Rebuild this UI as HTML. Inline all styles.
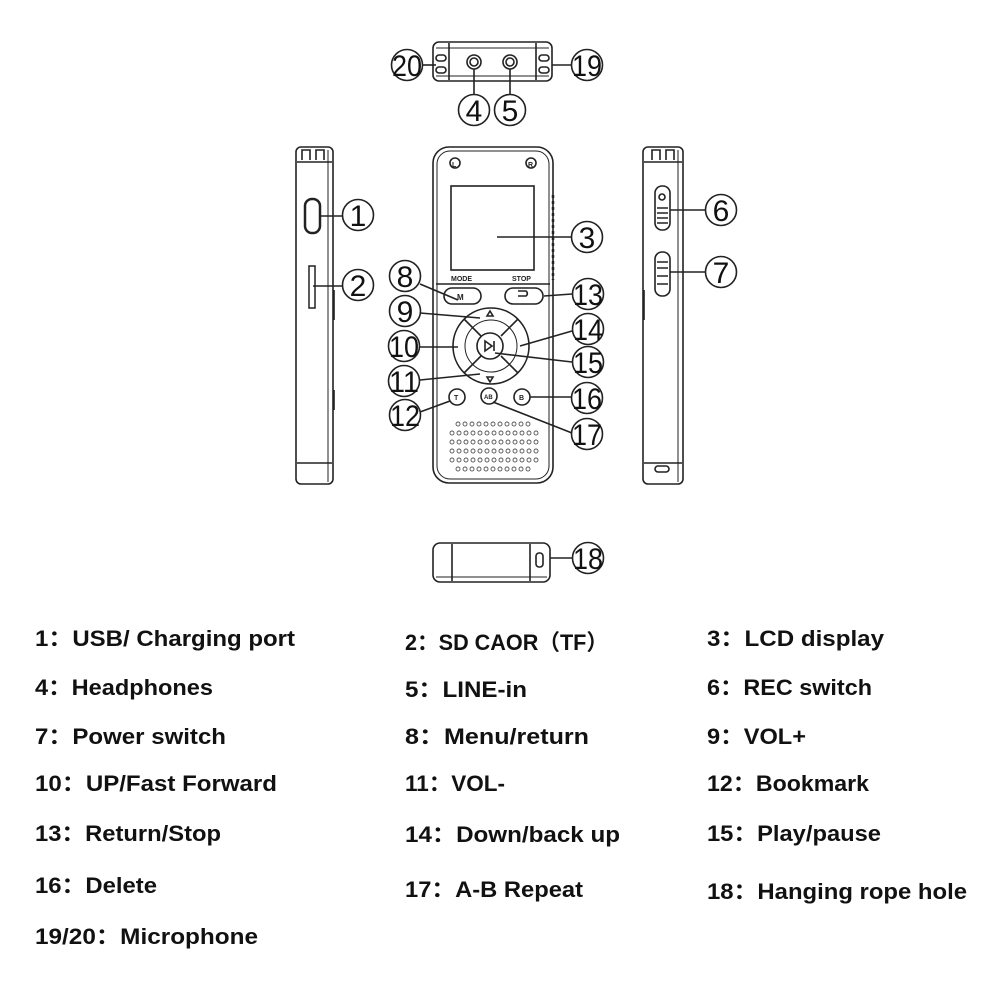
<!DOCTYPE html>
<html><head><meta charset="utf-8"><style>
html,body{margin:0;padding:0;background:#fff;}
svg{display:block}
.t{font-family:"Liberation Sans","Noto Sans CJK SC",sans-serif;font-weight:bold;font-size:22px;fill:#111}
.n{font-family:"Liberation Sans",sans-serif;font-size:30px;fill:#111;text-anchor:middle}
</style></head><body>
<svg width="1000" height="1000" viewBox="0 0 1000 1000" xmlns="http://www.w3.org/2000/svg">
<g fill="none" stroke="#222" stroke-width="1.6">
<rect x="433" y="42" width="119" height="39" rx="6"/>
<line x1="449" y1="43" x2="449" y2="80"/><line x1="536" y1="43" x2="536" y2="80"/>
<line x1="436" y1="48" x2="549" y2="48" stroke-width="1"/><line x1="436" y1="76" x2="549" y2="76" stroke-width="1"/>
<rect x="436" y="55" width="10" height="6" rx="3"/><rect x="436" y="67" width="10" height="6" rx="3"/>
<rect x="539" y="55" width="10" height="6" rx="3"/><rect x="539" y="67" width="10" height="6" rx="3"/>
<circle cx="474" cy="62" r="7"/><circle cx="474" cy="62" r="4"/>
<circle cx="510" cy="62" r="7"/><circle cx="510" cy="62" r="4"/>
<line x1="422" y1="65" x2="436" y2="65"/><line x1="552" y1="65" x2="572" y2="65"/>
<line x1="474" y1="69" x2="474" y2="95"/><line x1="510" y1="69" x2="510" y2="95"/>
<rect x="296" y="147" width="37" height="337" rx="5"/>
<line x1="297" y1="162" x2="332" y2="162"/><line x1="297" y1="463" x2="332" y2="463"/>
<line x1="328" y1="150" x2="328" y2="482" stroke-width="1"/>
<path d="M302 160v-10h8v10M316 160v-10h8v10"/>
<rect x="305" y="199" width="15" height="34" rx="7" stroke-width="2.5"/>
<rect x="309" y="266" width="6" height="42" stroke-width="1.5"/>
<line x1="320" y1="216" x2="343" y2="216"/><line x1="313" y1="286" x2="343" y2="286"/>
<line x1="334" y1="290" x2="334" y2="320"/><line x1="334" y1="390" x2="334" y2="410"/>
<rect x="433" y="147" width="120" height="336" rx="16"/>
<rect x="437" y="151" width="112" height="328" rx="13" stroke-width="1"/>
<circle cx="455" cy="163" r="5"/><circle cx="531" cy="163" r="5"/>
<rect x="451" y="186" width="83" height="84"/>
<line x1="436" y1="284" x2="550" y2="284"/>
<line x1="553" y1="195" x2="553" y2="280" stroke-width="2.5" stroke-dasharray="3 3"/>
<line x1="497" y1="237" x2="572" y2="237"/>
<rect x="444" y="288" width="37" height="16" rx="8"/>
<rect x="505" y="288" width="38" height="16" rx="8"/>
<path d="M518 296h8a3 3 0 0 0 0-5h-8"/>
<circle cx="491" cy="346" r="38"/><circle cx="491" cy="346" r="26" stroke-width="1"/>
<circle cx="490" cy="346" r="13"/>
<line x1="464" y1="319" x2="481" y2="336"/><line x1="518" y1="319" x2="501" y2="336"/>
<line x1="464" y1="373" x2="481" y2="356"/><line x1="518" y1="373" x2="501" y2="356"/>
<path d="M487 316l3-5 3 5z M487 377l3 5 3-5z"/>
<circle cx="457" cy="397" r="8"/><circle cx="489" cy="396" r="8"/><circle cx="522" cy="397" r="8"/>
<path d="M485 341v10l7-5z M494 341v10"/>
<line x1="420" y1="284" x2="458" y2="300"/>
<line x1="544" y1="296" x2="572" y2="294"/>
<line x1="420" y1="313" x2="480" y2="318"/>
<line x1="520" y1="346" x2="572" y2="331"/>
<line x1="420" y1="347" x2="458" y2="347"/>
<line x1="495" y1="353" x2="572" y2="362"/>
<line x1="420" y1="380" x2="480" y2="374"/>
<line x1="530" y1="397" x2="571" y2="397"/>
<line x1="420" y1="412" x2="450" y2="401"/>
<line x1="493" y1="402" x2="572" y2="433"/>
<rect x="643" y="147" width="40" height="337" rx="5"/>
<line x1="644" y1="162" x2="682" y2="162"/><line x1="644" y1="463" x2="682" y2="463"/>
<line x1="678" y1="150" x2="678" y2="482" stroke-width="1"/>
<path d="M652 160v-10h8v10M666 160v-10h8v10"/>
<rect x="655" y="186" width="15" height="44" rx="7"/>
<circle cx="662" cy="197" r="3"/>
<path d="M657 208h11M657 213h11M657 218h11M657 223h11"/>
<rect x="655" y="252" width="15" height="44" rx="7"/>
<path d="M657 262h11M657 268h11M657 276h11M657 284h11"/>
<rect x="655" y="466" width="14" height="6" rx="3"/>
<line x1="644" y1="290" x2="644" y2="320"/>
<line x1="670" y1="210" x2="705" y2="210"/><line x1="670" y1="272" x2="705" y2="272"/>
<rect x="433" y="543" width="117" height="39" rx="7"/>
<line x1="452" y1="544" x2="452" y2="581"/><line x1="530" y1="544" x2="530" y2="581"/>
<line x1="436" y1="577" x2="547" y2="577" stroke-width="1"/>
<rect x="536" y="553" width="7" height="14" rx="3"/>
<line x1="550" y1="558" x2="572" y2="558"/>
<circle cx="407" cy="65" r="15.5"/><circle cx="587" cy="65" r="15.5"/>
<circle cx="474" cy="110" r="15.5"/><circle cx="510" cy="110" r="15.5"/>
<circle cx="358" cy="215" r="15.5"/><circle cx="358" cy="285" r="15.5"/>
<circle cx="587" cy="237" r="15.5"/>
<circle cx="405" cy="276" r="15.5"/><circle cx="588" cy="294" r="15.5"/>
<circle cx="405" cy="311" r="15.5"/><circle cx="588" cy="329" r="15.5"/>
<circle cx="404" cy="346" r="15.5"/><circle cx="588" cy="362" r="15.5"/>
<circle cx="404" cy="381" r="15.5"/><circle cx="587" cy="398" r="15.5"/>
<circle cx="405" cy="415" r="15.5"/><circle cx="587" cy="434" r="15.5"/>
<circle cx="721" cy="210" r="15.5"/><circle cx="721" cy="272" r="15.5"/>
<circle cx="588" cy="558" r="15.5"/>
</g>
<g fill="none" stroke="#555" stroke-width="0.9">
<g id="r1"><circle cx="458" cy="424" r="2"/><circle cx="465" cy="424" r="2"/><circle cx="472" cy="424" r="2"/><circle cx="479" cy="424" r="2"/><circle cx="486" cy="424" r="2"/><circle cx="493" cy="424" r="2"/><circle cx="500" cy="424" r="2"/><circle cx="507" cy="424" r="2"/><circle cx="514" cy="424" r="2"/><circle cx="521" cy="424" r="2"/><circle cx="528" cy="424" r="2"/></g>
<g id="r2"><circle cx="452" cy="433" r="2"/><circle cx="459" cy="433" r="2"/><circle cx="466" cy="433" r="2"/><circle cx="473" cy="433" r="2"/><circle cx="480" cy="433" r="2"/><circle cx="487" cy="433" r="2"/><circle cx="494" cy="433" r="2"/><circle cx="501" cy="433" r="2"/><circle cx="508" cy="433" r="2"/><circle cx="515" cy="433" r="2"/><circle cx="522" cy="433" r="2"/><circle cx="529" cy="433" r="2"/><circle cx="536" cy="433" r="2"/></g>
<use href="#r2" y="9"/><use href="#r2" y="18"/><use href="#r2" y="27"/><use href="#r1" y="45"/>
</g>
<g font-family="Liberation Sans,sans-serif" font-weight="bold" font-size="7" fill="#222">
<text x="451" y="281">MODE</text><text x="512" y="281">STOP</text>
<text x="452" y="167">L</text><text x="528" y="167">R</text>
<text x="457" y="300" font-size="8">M</text>
<text x="454" y="400" font-size="7">T</text><text x="484" y="399" font-size="6">AB</text><text x="519" y="400" font-size="7">B</text>
</g>
<g class="n">
<text x="407" y="76" textLength="30" lengthAdjust="spacingAndGlyphs">20</text><text x="587" y="76" textLength="30" lengthAdjust="spacingAndGlyphs">19</text>
<text x="474" y="121">4</text><text x="510" y="121">5</text>
<text x="358" y="226">1</text><text x="358" y="296">2</text><text x="587" y="248">3</text>
<text x="405" y="287">8</text><text x="588" y="305" textLength="30" lengthAdjust="spacingAndGlyphs">13</text>
<text x="405" y="322">9</text><text x="588" y="340" textLength="30" lengthAdjust="spacingAndGlyphs">14</text>
<text x="404" y="357" textLength="30" lengthAdjust="spacingAndGlyphs">10</text><text x="588" y="373" textLength="30" lengthAdjust="spacingAndGlyphs">15</text>
<text x="404" y="392" textLength="30" lengthAdjust="spacingAndGlyphs">11</text><text x="587" y="409" textLength="30" lengthAdjust="spacingAndGlyphs">16</text>
<text x="405" y="426" textLength="30" lengthAdjust="spacingAndGlyphs">12</text><text x="587" y="445" textLength="30" lengthAdjust="spacingAndGlyphs">17</text>
<text x="721" y="221">6</text><text x="721" y="283">7</text>
<text x="588" y="569" textLength="30" lengthAdjust="spacingAndGlyphs">18</text>
</g>
<g class="t">
<text x="35" y="646" textLength="260" lengthAdjust="spacingAndGlyphs">1：USB/ Charging port</text>
<text x="405" y="650" textLength="203" lengthAdjust="spacingAndGlyphs">2：SD CAOR（TF）</text>
<text x="707" y="646" textLength="177" lengthAdjust="spacingAndGlyphs">3：LCD display</text>
<text x="35" y="695" textLength="178" lengthAdjust="spacingAndGlyphs">4：Headphones</text>
<text x="405" y="697" textLength="122" lengthAdjust="spacingAndGlyphs">5：LINE-in</text>
<text x="707" y="695" textLength="165" lengthAdjust="spacingAndGlyphs">6：REC switch</text>
<text x="35" y="744" textLength="191" lengthAdjust="spacingAndGlyphs">7：Power switch</text>
<text x="405" y="744" textLength="184" lengthAdjust="spacingAndGlyphs">8：Menu/return</text>
<text x="707" y="744" textLength="99" lengthAdjust="spacingAndGlyphs">9：VOL+</text>
<text x="35" y="791" textLength="242" lengthAdjust="spacingAndGlyphs">10：UP/Fast Forward</text>
<text x="405" y="791" textLength="100" lengthAdjust="spacingAndGlyphs">11：VOL-</text>
<text x="707" y="791" textLength="162" lengthAdjust="spacingAndGlyphs">12：Bookmark</text>
<text x="35" y="841" textLength="186" lengthAdjust="spacingAndGlyphs">13：Return/Stop</text>
<text x="405" y="842" textLength="215" lengthAdjust="spacingAndGlyphs">14：Down/back up</text>
<text x="707" y="841" textLength="174" lengthAdjust="spacingAndGlyphs">15：Play/pause</text>
<text x="35" y="893" textLength="122" lengthAdjust="spacingAndGlyphs">16：Delete</text>
<text x="405" y="897" textLength="178" lengthAdjust="spacingAndGlyphs">17：A-B Repeat</text>
<text x="707" y="899" textLength="260" lengthAdjust="spacingAndGlyphs">18：Hanging rope hole</text>
<text x="35" y="944" textLength="223" lengthAdjust="spacingAndGlyphs">19/20：Microphone</text>
</g>
</svg>
</body></html>
